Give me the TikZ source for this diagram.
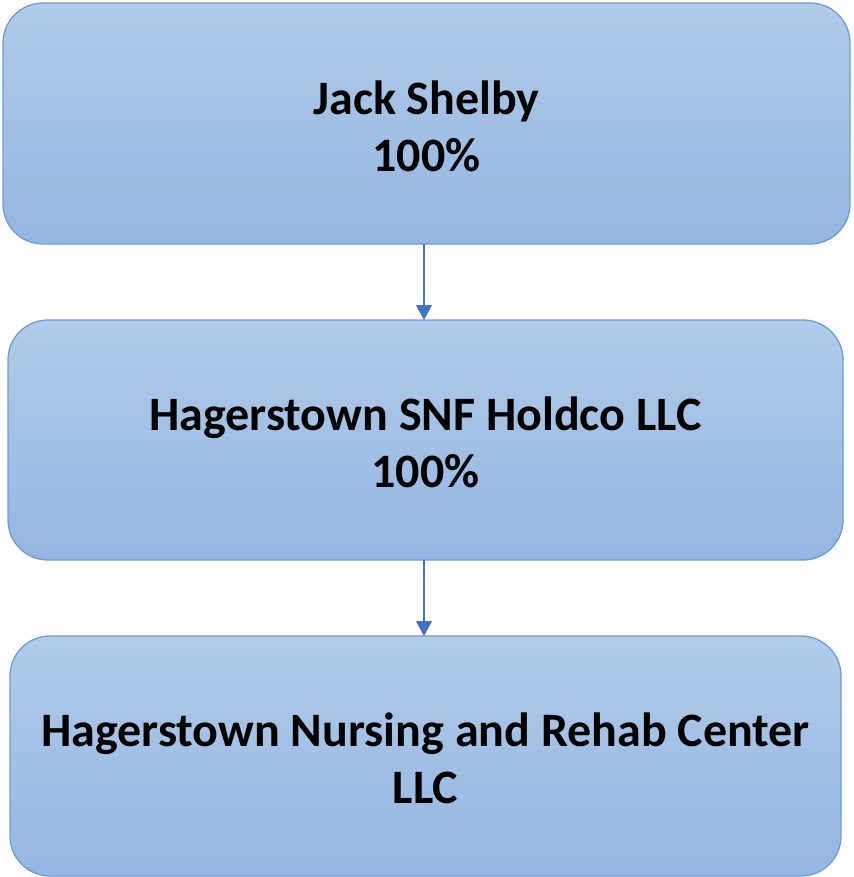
\documentclass[tikz,border=0pt]{standalone}
\usepackage{fontspec}
\setmainfont{Carlito}
\usetikzlibrary{arrows.meta}
\definecolor{boxtop}{HTML}{B1CBE9}
\definecolor{boxbot}{HTML}{94B6E2}
\definecolor{boxline}{HTML}{6B9DD8}
\definecolor{arrowcol}{HTML}{4472C4}
\begin{document}
\begin{tikzpicture}[x=1pt,y=-1pt,
  orgbox/.style={draw=boxline, line width=1.3pt, rounded corners=40pt,
    top color=boxtop, bottom color=boxbot, shading angle=0},
  lbl/.style={font=\fontsize{48}{57}\selectfont\bfseries, align=center, text=black},
  conn/.style={draw=arrowcol, line width=1.2pt, -{Triangle[length=15pt,width=16pt]}}]
\useasboundingbox (0,0) rectangle (853,877);
\shade[orgbox] (3,3) rectangle (850,244);
\coordinate (b1) at (426.5,126);
\coordinate (b1s) at (424,244);
\shade[orgbox] (8,320) rectangle (843,560);
\coordinate (b2) at (425.5,442);
\coordinate (b2n) at (424,320);
\coordinate (b2s) at (424,560);
\shade[orgbox] (10,636) rectangle (841,876);
\coordinate (b3) at (425.5,758);
\coordinate (b3n) at (424,636);
\node[lbl] (t1) at (b1) {Jack Shelby\\100\%};
\node[lbl] (t2) at (b2) {Hagerstown SNF Holdco LLC\\100\%};
\node[lbl] (t3) at (b3) {Hagerstown Nursing and Rehab Center\\LLC};
\draw[conn] (b1s) -- (b2n);
\draw[conn] (b2s) -- (b3n);
\end{tikzpicture}
\end{document}
